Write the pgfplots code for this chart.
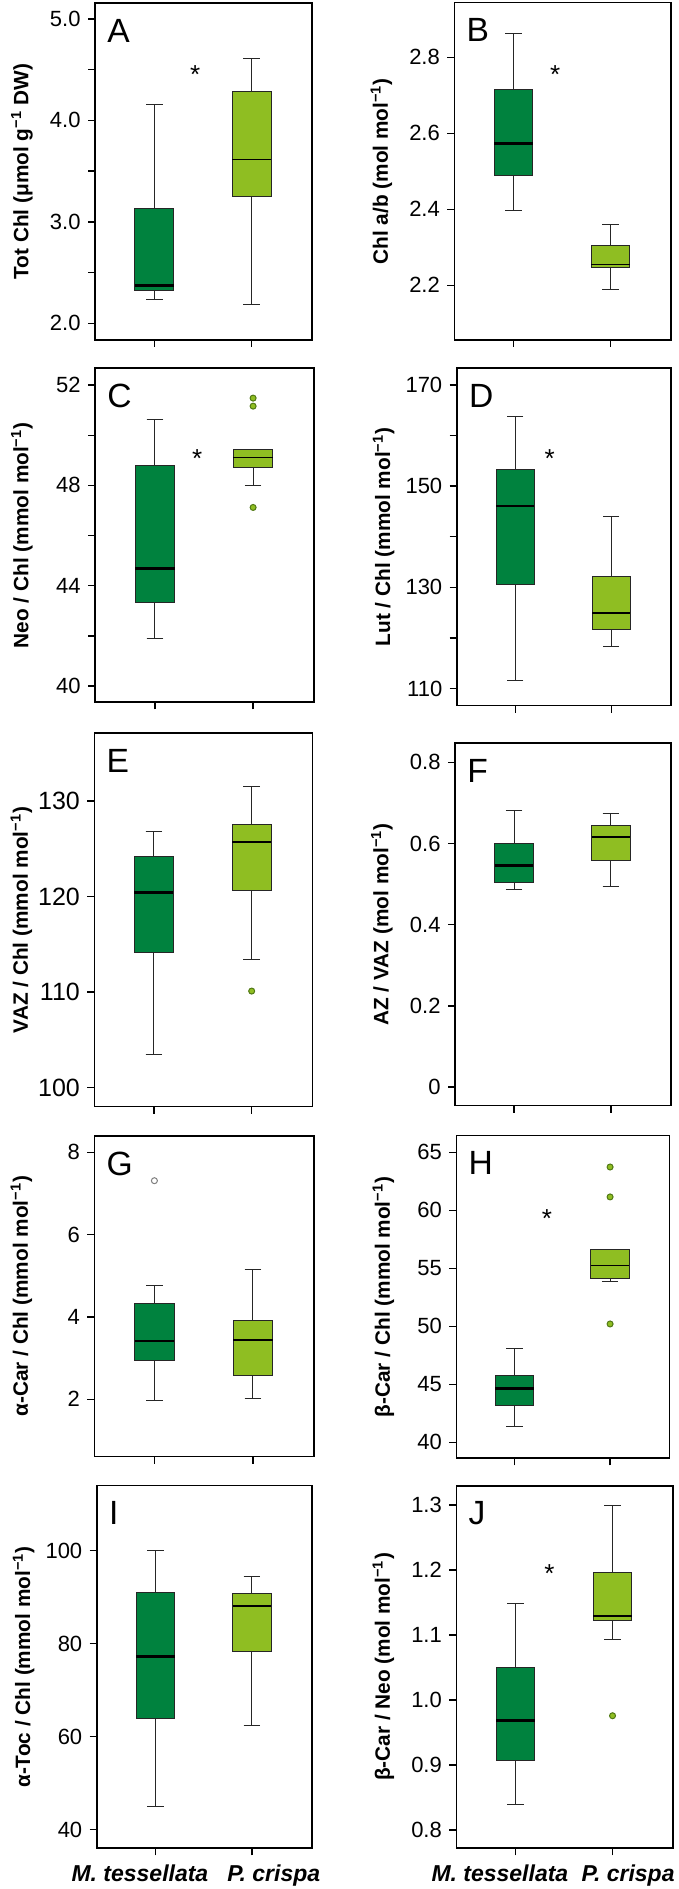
\documentclass[border=0pt]{standalone}
\usepackage{pgfplots}
\pgfplotsset{compat=1.18}
\usepgfplotslibrary{statistics}
\usepackage{fontspec}
\setmainfont{Liberation Sans}
\definecolor{dkg}{RGB}{0,130,62}
\definecolor{lgr}{RGB}{143,190,34}
\definecolor{olv}{RGB}{80,120,20}
\pgfplotsset{
  panel/.style={scale only axis, anchor=south west, clip=false,
    boxplot/draw direction=y,
    xmin=0.39, xmax=2.62, xtick={1,2}, xticklabels={},
    xtick pos=lower, ytick pos=left, tick align=outside,
    major tick length=3.5pt, minor tick length=3.5pt,
    line width=0.8pt,
    every tick/.style={black, line width=0.7pt},
    every axis y label/.style={at={(rel axis cs:0,0.5)}, xshift=-36.5pt, rotate=90, anchor=center,
      font=\bfseries\fontsize{10.4}{12}\selectfont},
    yticklabel style={font=\fontsize{11}{12}\selectfont},
  },
  dkbox/.style={fill=dkg, draw=black!85, line width=0.5pt,
    boxplot/box extend=0.4, boxplot/whisker extend=0.17,
    boxplot/every median/.style={draw=black, line width=1.3pt},
    mark=*, mark size=1.5pt, mark options={fill=white, draw=black!50, line width=0.5pt}},
  lgbox/.style={fill=lgr, draw=black!85, line width=0.5pt,
    boxplot/box extend=0.4, boxplot/whisker extend=0.17,
    boxplot/every median/.style={draw=black, line width=#1},
    mark=*, mark size=1.5pt, mark options={fill=lgr, draw=olv, line width=0.5pt}},
  lgbox/.default=0.7pt,
}
\newcommand{\plabel}[1]{\node[anchor=north west, inner sep=0pt, font=\fontsize{16.8}{17}\selectfont, xshift=5.8pt, yshift=-7.6pt] at (rel axis cs:0,1) {#1};}
\newcommand{\sig}[2]{\node[inner sep=0pt, font=\fontsize{13}{13}\selectfont, yshift=-2.8pt] at (axis cs:#1,#2) {*};}
\begin{document}
\begin{tikzpicture}
\useasboundingbox (0,0) rectangle (339.5pt,944.5pt);
% ---------- A ----------
\begin{axis}[panel, at={(47.5pt,774.5pt)}, width=108.5pt, height=168.5pt,
  ymin=1.835, ymax=5.158, ytick={2,3,4,5}, yticklabels={2.0,3.0,4.0,5.0}, minor ytick={2.5,3.5,4.5},
  ylabel={Tot Chl (μmol g\textsuperscript{−1} DW)}]
\addplot[dkbox, boxplot prepared={draw position=1, lower whisker=2.236, lower quartile=2.321, median=2.370, upper quartile=3.136, upper whisker=4.159}] coordinates {};
\addplot[lgbox, boxplot prepared={draw position=2, lower whisker=2.189, lower quartile=3.254, median=3.616, upper quartile=4.283, upper whisker=4.606}] coordinates {};
\plabel{A}
\sig{1.42}{4.507}
\end{axis}
% ---------- B ----------
\begin{axis}[panel, at={(227.15pt,774.5pt)}, width=108.2pt, height=168.65pt,
  ymin=2.056, ymax=2.944, ytick={2.2,2.4,2.6,2.8}, yticklabels={2.2,2.4,2.6,2.8},
  ylabel={Chl a/b (mol mol\textsuperscript{−1})}]
\addplot[dkbox, boxplot prepared={draw position=1, lower whisker=2.396, lower quartile=2.490, median=2.573, upper quartile=2.715, upper whisker=2.863}] coordinates {};
\addplot[lgbox, boxplot prepared={draw position=2, lower whisker=2.188, lower quartile=2.246, median=2.255, upper quartile=2.305, upper whisker=2.361}] coordinates {};
\plabel{B}
\sig{1.43}{2.769}
\end{axis}
% ---------- C ----------
\begin{axis}[panel, at={(47.5pt,593.35pt)}, width=109.5pt, height=167pt,
  ymin=39.35, ymax=52.67, ytick={40,44,48,52}, yticklabels={40,44,48,52}, minor ytick={42,46,50},
  ylabel={Neo / Chl (mmol mol\textsuperscript{−1})}]
\addplot[dkbox, boxplot prepared={draw position=1, lower whisker=41.9, lower quartile=43.32, median=44.68, upper quartile=48.80, upper whisker=50.64}] coordinates {};
\addplot[lgbox, boxplot prepared={draw position=2, lower whisker=48.01, lower quartile=48.72, median=49.12, upper quartile=49.45, upper whisker=49.45}] coordinates {(0,51.48) (0,51.16) (0,47.12)};
\plabel{C}
\sig{1.43}{49.3}
\end{axis}
% ---------- D ----------
\begin{axis}[panel, at={(228.35pt,591.65pt)}, width=107pt, height=168.7pt,
  ymin=106.6, ymax=173.3, ytick={110,130,150,170}, yticklabels={110,130,150,170}, minor ytick={120,140,160},
  ylabel={Lut / Chl (mmol mol\textsuperscript{−1})}]
\addplot[dkbox, boxplot prepared={draw position=1, lower whisker=111.5, lower quartile=130.5, median=146.1, upper quartile=153.2, upper whisker=163.7}] coordinates {};
\addplot[lgbox=0.9pt, boxplot prepared={draw position=2, lower whisker=118.3, lower quartile=121.6, median=124.9, upper quartile=132.2, upper whisker=144.0}] coordinates {};
\plabel{D}
\sig{1.36}{156.6}
\end{axis}
% ---------- E ----------
\begin{axis}[panel, at={(47.15pt,391.15pt)}, width=109pt, height=186.7pt,
  ymin=98.0, ymax=137.08, ytick={100,110,120,130}, yticklabels={100,110,120,130},
  yticklabel style={font=\fontsize{12.5}{13}\selectfont},
  ylabel={VAZ / Chl (mmol mol\textsuperscript{−1})}]
\addplot[dkbox, boxplot prepared={draw position=1, lower whisker=103.5, lower quartile=114.1, median=120.4, upper quartile=124.2, upper whisker=126.8}] coordinates {};
\addplot[lgbox=1.2pt, boxplot prepared={draw position=2, lower whisker=113.4, lower quartile=120.6, median=125.7, upper quartile=127.5, upper whisker=131.5}] coordinates {(0,110.1)};
\plabel{E}
\end{axis}
% ---------- F ----------
\begin{axis}[panel, at={(227.5pt,391.65pt)}, width=108pt, height=181.2pt,
  ymin=-0.046, ymax=0.847, ytick={0,0.2,0.4,0.6,0.8}, yticklabels={0,0.2,0.4,0.6,0.8},
  ylabel={AZ / VAZ (mol mol\textsuperscript{−1})}]
\addplot[dkbox, boxplot prepared={draw position=1, lower whisker=0.487, lower quartile=0.504, median=0.546, upper quartile=0.599, upper whisker=0.682}] coordinates {};
\addplot[lgbox=0.9pt, boxplot prepared={draw position=2, lower whisker=0.494, lower quartile=0.558, median=0.616, upper quartile=0.645, upper whisker=0.673}] coordinates {};
\plabel{F}
\end{axis}
% ---------- G ----------
\begin{axis}[panel, at={(47.15pt,216.15pt)}, width=109.85pt, height=160.5pt,
  ymin=0.606, ymax=8.403, ytick={2,4,6,8}, yticklabels={2,4,6,8},
  ylabel={α-Car / Chl (mmol mol\textsuperscript{−1})}]
\addplot[dkbox, boxplot prepared={draw position=1, lower whisker=1.98, lower quartile=2.95, median=3.42, upper quartile=4.33, upper whisker=4.76}] coordinates {(0,7.31)};
\addplot[lgbox=0.9pt, boxplot prepared={draw position=2, lower whisker=2.03, lower quartile=2.57, median=3.44, upper quartile=3.91, upper whisker=5.16}] coordinates {};
\plabel{G}
\end{axis}
% ---------- H ----------
\begin{axis}[panel, at={(228.15pt,215.35pt)}, width=106.5pt, height=161.3pt,
  ymin=38.62, ymax=66.43, ytick={40,45,50,55,60,65}, yticklabels={40,45,50,55,60,65},
  ylabel={β-Car / Chl (mmol mol\textsuperscript{−1})}]
\addplot[dkbox, boxplot prepared={draw position=1, lower whisker=41.32, lower quartile=43.13, median=44.62, upper quartile=45.8, upper whisker=48.07}] coordinates {};
\addplot[lgbox, boxplot prepared={draw position=2, lower whisker=53.88, lower quartile=54.1, median=55.22, upper quartile=56.6, upper whisker=56.6}] coordinates {(0,63.73) (0,61.15) (0,50.2)};
\plabel{H}
\sig{1.34}{59.74}
\end{axis}
% ---------- I ----------
\begin{axis}[panel, at={(48.35pt,20.35pt)}, width=107.5pt, height=181.3pt,
  ymin=36.0, ymax=113.98, ytick={40,60,80,100}, yticklabels={40,60,80,100},
  ylabel={α-Toc / Chl (mmol mol\textsuperscript{−1})}]
\addplot[dkbox, boxplot prepared={draw position=1, lower whisker=44.9, lower quartile=63.9, median=77.2, upper quartile=90.97, upper whisker=100.1}] coordinates {};
\addplot[lgbox=1.2pt, boxplot prepared={draw position=2, lower whisker=62.5, lower quartile=78.4, median=88.1, upper quartile=90.7, upper whisker=94.5}] coordinates {};
\plabel{I}
\node[anchor=base, inner sep=0pt, font=\bfseries\itshape\fontsize{11.5}{12}\selectfont, xshift=-7.8pt, yshift=-16.7pt] at (axis cs:1,36.0) {M. tessellata};
\node[anchor=base, inner sep=0pt, font=\bfseries\itshape\fontsize{11.5}{12}\selectfont, xshift=10.9pt, yshift=-16.7pt] at (axis cs:2,36.0) {P. crispa};
\end{axis}
% ---------- J ----------
\begin{axis}[panel, at={(228.15pt,20.35pt)}, width=108.2pt, height=181.3pt,
  ymin=0.772, ymax=1.330, ytick={0.8,0.9,1.0,1.1,1.2,1.3}, yticklabels={0.8,0.9,1.0,1.1,1.2,1.3},
  ylabel={β-Car / Neo (mol mol\textsuperscript{−1})}]
\addplot[dkbox, boxplot prepared={draw position=1, lower whisker=0.839, lower quartile=0.907, median=0.969, upper quartile=1.050, upper whisker=1.149}] coordinates {};
\addplot[lgbox=0.9pt, boxplot prepared={draw position=2, lower whisker=1.094, lower quartile=1.123, median=1.130, upper quartile=1.196, upper whisker=1.299}] coordinates {(0,0.976)};
\plabel{J}
\sig{1.35}{1.204}
\node[anchor=base, inner sep=0pt, font=\bfseries\itshape\fontsize{11.5}{12}\selectfont, xshift=-7.8pt, yshift=-16.7pt] at (axis cs:1,0.772) {M. tessellata};
\node[anchor=base, inner sep=0pt, font=\bfseries\itshape\fontsize{11.5}{12}\selectfont, xshift=7.8pt, yshift=-16.7pt] at (axis cs:2,0.772) {P. crispa};
\end{axis}
\end{tikzpicture}
\end{document}
